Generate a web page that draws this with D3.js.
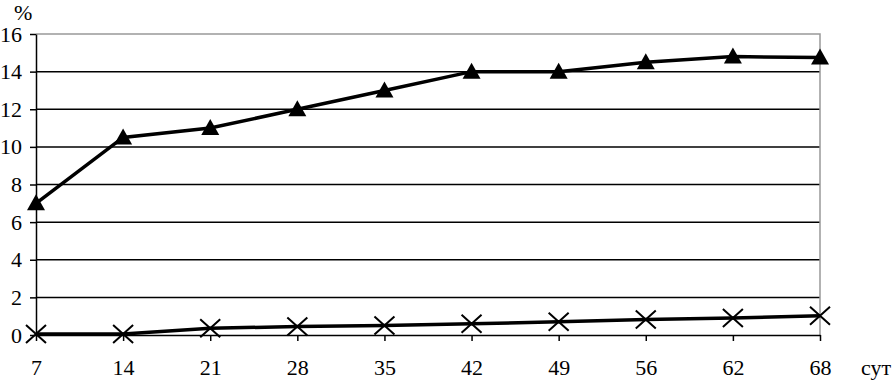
<!DOCTYPE html>
<html>
<head>
<meta charset="utf-8">
<script src="https://cdn.jsdelivr.net/npm/d3@7"></script>
<style>
  body { margin: 0; background: #fff; }
  svg text { font-family: "Liberation Serif", "DejaVu Serif", serif; }
</style>
</head>
<body>
<svg id="chart" width="892" height="380"></svg>
<script>
// days
const days = ["7", "14", "21", "28", "35", "42", "49", "56", "62", "68"];
// upper series (triangles), %
const seriesTri = [7.0, 10.5, 11.0, 12.0, 13.0, 14.0, 14.0, 14.5, 14.8, 14.75];
// lower series (crosses), %
const seriesCross = [0.05, 0.05, 0.36, 0.45, 0.5, 0.6, 0.7, 0.82, 0.9, 1.02];
const yTicks = [0, 2, 4, 6, 8, 10, 12, 14, 16];

const svg = d3.select("#chart");
const margin = { left: 36, right: 72, top: 34, bottom: 45 };
const width = 892, height = 380;
const fontSize = 22;

const x = d3.scalePoint()
    .domain(days)
    .range([margin.left, width - margin.right]);
const y = d3.scaleLinear()
    .domain([0, 16])
    .range([height - margin.bottom, margin.top]);

// gridlines
svg.append("g")
    .selectAll("line")
    .data(yTicks.filter(d => d > 0 && d < 16))
    .enter()
    .append("line")
    .attr("x1", margin.left)
    .attr("x2", width - margin.right)
    .attr("y1", d => y(d))
    .attr("y2", d => y(d))
    .attr("stroke", "#000")
    .attr("stroke-width", 1.5);

// top and right border (gray)
svg.append("path")
    .attr("d", `M${margin.left},${y(16)}H${width - margin.right}V${y(0)}`)
    .attr("fill", "none")
    .attr("stroke", "#999")
    .attr("stroke-width", 1.5);

// y axis
const yAxis = d3.axisLeft(y).tickValues(yTicks).tickSize(6).tickSizeOuter(0);
const gy = svg.append("g")
    .attr("transform", `translate(${margin.left},0)`)
    .call(yAxis)
    .attr("font-size", fontSize)
    .attr("font-family", "Liberation Serif");
gy.select(".domain").attr("stroke", "#000").attr("stroke-width", 1.5);
gy.selectAll(".tick line").attr("stroke", "#000").attr("stroke-width", 1.5);
gy.selectAll(".tick text")
    .attr("x", -14)
    .attr("fill", "#000");

// x axis
const xAxis = d3.axisBottom(x).tickSize(6).tickSizeOuter(0);
const gx = svg.append("g")
    .attr("transform", `translate(0,${y(0)})`)
    .call(xAxis)
    .attr("font-size", fontSize)
    .attr("font-family", "Liberation Serif");
gx.select(".domain").attr("stroke", "#000").attr("stroke-width", 1.5);
gx.selectAll(".tick line").attr("stroke", "#000").attr("stroke-width", 1.5);
gx.selectAll(".tick text")
    .attr("y", 24)
    .attr("fill", "#000");

// axis titles
svg.append("text")
    .attr("x", 14)
    .attr("y", 20)
    .attr("font-size", fontSize)
    .text("%");
svg.append("text")
    .attr("x", 861)
    .attr("y", 375)
    .attr("font-size", fontSize)
    .text("сут");

// lines
const line = d3.line()
    .x((d, i) => x(days[i]))
    .y(d => y(d));

svg.append("path")
    .datum(seriesCross)
    .attr("d", line)
    .attr("fill", "none")
    .attr("stroke", "#000")
    .attr("stroke-width", 3.5);

svg.append("path")
    .datum(seriesTri)
    .attr("d", line)
    .attr("fill", "none")
    .attr("stroke", "#000")
    .attr("stroke-width", 3.5);

// cross markers
const cs = 10;
svg.append("g")
    .selectAll("path")
    .data(seriesCross)
    .enter()
    .append("path")
    .attr("transform", (d, i) => `translate(${x(days[i])},${y(d)})`)
    .attr("d", `M${-cs},${-cs * 0.9}L${cs},${cs * 0.9}M${-cs},${cs * 0.9}L${cs},${-cs * 0.9}`)
    .attr("stroke", "#000")
    .attr("stroke-width", 2);

// triangle markers
svg.append("g")
    .selectAll("path")
    .data(seriesTri)
    .enter()
    .append("path")
    .attr("transform", (d, i) => `translate(${x(days[i])},${y(d)})`)
    .attr("d", "M0,-9L9,7L-9,7Z")
    .attr("fill", "#000");
</script>
</body>
</html>
